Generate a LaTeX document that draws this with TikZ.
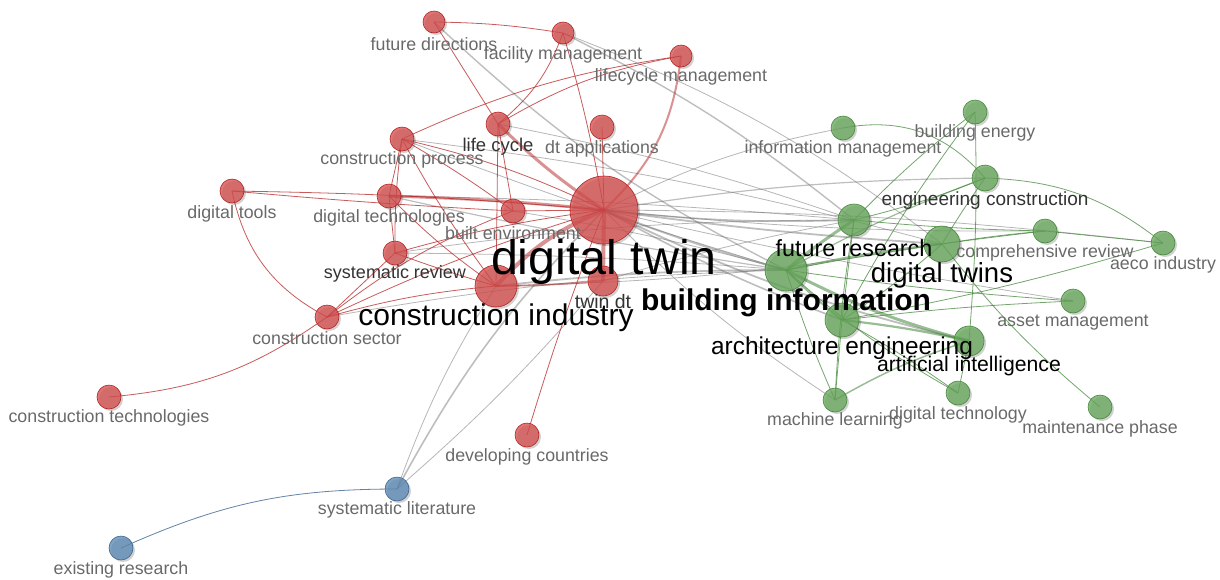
\documentclass[tikz,border=0pt]{standalone}
\usepackage{fontspec}
\setmainfont{Liberation Sans}
\usetikzlibrary{shadows}
\definecolor{redf}{RGB}{214,78,78}
\definecolor{redd}{RGB}{180,36,36}
\definecolor{grnf}{RGB}{104,168,92}
\definecolor{grnd}{RGB}{70,135,60}
\definecolor{bluf}{RGB}{92,138,180}
\definecolor{blud}{RGB}{60,100,145}
\definecolor{edgegray}{RGB}{110,110,110}
\definecolor{labgray}{RGB}{105,105,105}
\tikzset{
  kw/.style={circle, inner sep=0pt, minimum size=#1, line width=0.6pt, fill opacity=0.78,
    drop shadow={shadow xshift=2pt, shadow yshift=-2pt, opacity=0.18, fill=black}},
  rn/.style={kw=#1, fill=redf, draw=redd},
  gn/.style={kw=#1, fill=grnf, draw=grnd},
  bn/.style={kw=#1, fill=bluf, draw=blud},
  lab/.style={inner sep=0pt, text=labgray, font=\fontsize{#1}{#1}\selectfont},
  dlab/.style={inner sep=0pt, text=black!80, font=\fontsize{#1}{#1}\selectfont},
  blab/.style={inner sep=0pt, text=black, font=\fontsize{#1}{#1}\selectfont},
  re/.style={draw=redd, line width=0.8pt, opacity=0.75},
  reT/.style={draw=redd, line width=#1, opacity=0.5},
  ge/.style={draw=edgegray, line width=0.8pt, opacity=0.5},
  geT/.style={draw=edgegray, line width=#1, opacity=0.45},
  ne/.style={draw=grnd, line width=0.8pt, opacity=0.75},
  neT/.style={draw=grnd, line width=#1, opacity=0.55},
  be/.style={draw=blud, line width=0.8pt, opacity=0.8},
}
\begin{document}
\begin{tikzpicture}[x=1pt,y=-1pt]
\useasboundingbox (0,0) rectangle (1220,579);
% ---- coordinates of nodes (centres) ----
\coordinate (fd) at (434,22);
\coordinate (fm) at (563,33);
\coordinate (lm) at (681,56);
\coordinate (lc) at (498,124);
\coordinate (dta) at (602,127);
\coordinate (cp) at (402,139);
\coordinate (dto) at (232,191);
\coordinate (dte) at (389,196);
\coordinate (ben) at (513,211);
\coordinate (dt) at (604,210);
\coordinate (sr) at (395,253);
\coordinate (ci) at (496,286);
\coordinate (tdt) at (603,281);
\coordinate (cs) at (327,317);
\coordinate (ct) at (109,397);
\coordinate (dc) at (527,435);
\coordinate (sl) at (397,489);
\coordinate (er) at (121,548);
\coordinate (im) at (843,128);
\coordinate (bld) at (975,112);
\coordinate (ec) at (985,178);
\coordinate (cr) at (1045,231);
\coordinate (aeco) at (1163,243);
\coordinate (fr) at (854,220);
\coordinate (dts) at (942,244);
\coordinate (bi) at (786,270);
\coordinate (am) at (1073,301);
\coordinate (ae) at (842,320);
\coordinate (ai) at (969,341);
\coordinate (ml) at (835,400);
\coordinate (dtg) at (958,393);
\coordinate (mp) at (1100,407);
% ---- gray (inter-cluster) edges ----
\draw[geT=2pt] (dt) to[bend right=3] (bi);
\draw[geT=1.6pt] (dt) to[bend right=4] (fr);
\draw[geT=1.8pt] (dt) to[bend right=2] (dts);
\draw[geT=1.2pt] (dt) to[bend left=4] (ec);
\draw[geT=1.6pt] (dt) to[bend right=4] (ae);
\draw[geT=1.8pt] (dt) to[bend right=6] (ai);
\draw[ge] (dt) to[bend right=3] (cr);
\draw[ge] (dt) to[bend right=2] (am);
\draw[ge] (dt) to[bend left=8] (im);
\draw[ge] (dt) to[bend right=6] (ml);
\draw[ge] (dt) to[bend left=3] (aeco);
\draw[geT=1.8pt] (ci) to[bend left=3] (bi);
\draw[ge] (ci) to[bend right=4] (dts);
\draw[geT=1.4pt] (fd) to[bend right=8] (bi);
\draw[geT=1.4pt] (fm) to[bend left=6] (fr);
\draw[ge] (fm) to[bend left=8] (dts);
\draw[ge] (lc) to[bend left=4] (fr);
\draw[ge] (cp) to[bend left=4] (dts);
\draw[ge] (cp) to[bend right=2] (bi);
\draw[geT=1.2pt] (dte) to[bend right=2] (bi);
\draw[ge] (dte) to[bend left=2] (fr);
\draw[ge] (sr) to[bend left=2] (bi);
\draw[ge] (sr) to[bend left=4] (fr);
\draw[ge] (cs) to[bend left=4] (bi);
\draw[ge] (ben) to[bend left=3] (bi);
\draw[ge] (tdt) to[bend left=3] (fr);
\draw[geT=1.6pt] (sl) to[bend left=8] (dt);
\draw[ge] (sl) to[bend left=6] (ci);
\draw[ge] (sl) to[bend right=4] (tdt);
% ---- red edges ----
\draw[re] (fd) to[bend left=4] (fm);
\draw[re] (fd) to (lc);
\draw[re] (fm) to[bend left=15] (lc);
\draw[re] (fm) to[bend left=3] (dt);
\draw[re] (lc) to[bend left=10] (lm);
\draw[re] (cp) to[bend left=8] (lm);
\draw[reT=2pt] (lm) to[bend left=20] (dt);
\draw[reT=3pt] (lc) to[bend right=5] (dt);
\draw[re] (lc) to (ben);
\draw[re] (lc) to (ci);
\draw[re] (dta) to (dt);
\draw[re] (cp) to[bend left=6] (dt);
\draw[re] (cp) to (dte);
\draw[re] (cp) to[bend right=4] (sr);
\draw[re] (cp) to[bend right=4] (ci);
\draw[re] (cp) to[bend left=3] (ben);
\draw[re] (dto) to[bend left=2] (dt);
\draw[re] (dto) to[bend right=1] (ben);
\draw[re] (dto) to[bend right=25] (cs);
\draw[reT=3pt] (dte) to[bend left=2] (dt);
\draw[re] (dte) to (sr);
\draw[re] (dte) to[bend right=5] (ci);
\draw[re] (ben) to (dt);
\draw[reT=4pt] (ci) to[bend left=12] (dt);
\draw[reT=4pt] (dt) to (tdt);
\draw[re] (sr) to[bend right=2] (ci);
\draw[re] (sr) to (cs);
\draw[re] (sr) to[bend left=4] (dt);
\draw[re] (cs) to[bend left=5] (ci);
\draw[re] (cs) to[bend left=4] (dt);
\draw[re] (cs) to[bend left=8] (ben);
\draw[re] (cs) to[bend left=15] (ct);
\draw[reT=1.8pt] (ci) to[bend right=2] (tdt);
\draw[re] (dc) to[bend left=2] (dt);
% ---- blue edge ----
\draw[be] (er) to[bend left=12] (sl);
% ---- green edges ----
\draw[neT=3pt] (bi) to[bend left=3] (fr);
\draw[neT=2pt] (bi) to[bend left=3] (dts);
\draw[neT=1.2pt] (bi) to[bend left=4] (ec);
\draw[neT=2pt] (bi) to[bend right=3] (ae);
\draw[neT=3pt] (bi) to[bend right=6] (ai);
\draw[ne] (bi) to[bend right=3] (ml);
\draw[ne] (bi) to[bend right=6] (dtg);
\draw[ne] (bi) to[bend left=2] (cr);
\draw[ne] (bi) to[bend right=2] (am);
\draw[ne] (fr) to[bend right=4] (ec);
\draw[ne] (fr) to[bend right=2] (cr);
\draw[ne] (fr) to[bend left=4] (bld);
\draw[ne] (fr) to (ae);
\draw[ne] (dts) to[bend left=2] (ec);
\draw[ne] (dts) to[bend left=2] (cr);
\draw[ne] (dts) to[bend right=6] (mp);
\draw[ne] (dts) to[bend left=4] (ae);
\draw[ne] (im) to[bend left=30] (ec);
\draw[ne] (ec) to[bend left=18] (aeco);
\draw[ne] (bld) to[bend left=3] (ai);
\draw[ne] (bld) to[bend right=4] (ae);
\draw[ne] (cr) to (aeco);
\draw[ne] (ae) to[bend left=2] (am);
\draw[ne] (ae) to[bend right=3] (aeco);
\draw[neT=2.2pt] (ae) to[bend left=3] (ai);
\draw[ne] (ae) to (ml);
\draw[ne] (ae) to[bend left=3] (dtg);
\draw[neT=1.5pt] (ai) to[bend right=6] (ml);
\draw[ne] (ai) to (dtg);
\draw[ne] (ml) to[bend left=3] (fr);
% ---- keyword circles ----
\node[rn=22pt] (n-fd) at (fd) {};
\node[rn=22pt] (n-fm) at (fm) {};
\node[rn=22pt] (n-lm) at (lm) {};
\node[rn=24pt] (n-lc) at (lc) {};
\node[rn=24pt] (n-dta) at (dta) {};
\node[rn=24pt] (n-cp) at (cp) {};
\node[rn=24pt] (n-dto) at (dto) {};
\node[rn=24pt] (n-dte) at (dte) {};
\node[rn=24pt] (n-ben) at (ben) {};
\node[rn=68pt] (n-dt) at (dt) {};
\node[rn=24pt] (n-sr) at (sr) {};
\node[rn=42pt] (n-ci) at (ci) {};
\node[rn=30pt] (n-tdt) at (tdt) {};
\node[rn=24pt] (n-cs) at (cs) {};
\node[rn=24pt] (n-ct) at (ct) {};
\node[rn=24pt] (n-dc) at (dc) {};
\node[bn=24pt] (n-sl) at (sl) {};
\node[bn=24pt] (n-er) at (er) {};
\node[gn=24pt] (n-im) at (im) {};
\node[gn=24pt] (n-bld) at (bld) {};
\node[gn=26pt] (n-ec) at (ec) {};
\node[gn=24pt] (n-cr) at (cr) {};
\node[gn=24pt] (n-aeco) at (aeco) {};
\node[gn=32pt] (n-fr) at (fr) {};
\node[gn=36pt] (n-dts) at (dts) {};
\node[gn=42pt] (n-bi) at (bi) {};
\node[gn=24pt] (n-am) at (am) {};
\node[gn=34pt] (n-ae) at (ae) {};
\node[gn=30pt] (n-ai) at (ai) {};
\node[gn=24pt] (n-ml) at (ml) {};
\node[gn=24pt] (n-dtg) at (dtg) {};
\node[gn=24pt] (n-mp) at (mp) {};
% ---- labels ----
\node[lab=17.8] (l-fd) at (434,44) {future directions};
\node[lab=17.8] (l-fm) at (563,55) {facility management};
\node[lab=17.8] (l-lm) at (681,77) {lifecycle management};
\node[dlab=18.5] (l-lc) at (498,147) {life cycle};
\node[lab=17.8] (l-dta) at (602,149) {dt applications};
\node[lab=17.8] (l-cp) at (402,160) {construction process};
\node[lab=17.8] (l-dto) at (232,214) {digital tools};
\node[lab=17.8] (l-dte) at (389,218) {digital technologies};
\node[lab=17.8] (l-ben) at (513,233) {built environment};
\node[dlab=18] (l-sr) at (395,274) {systematic review};
\node[lab=17.8] (l-cs) at (327,338) {construction sector};
\node[lab=17.8] (l-ct) at (109,418) {construction technologies};
\node[lab=17.8] (l-dc) at (527,457) {developing countries};
\node[lab=17.8] (l-sl) at (397,510) {systematic literature};
\node[lab=17.8] (l-er) at (121,570) {existing research};
\node[lab=17.8] (l-im) at (843,149) {information management};
\node[lab=17.8] (l-bld) at (975,133) {building energy};
\node[lab=17.8] (l-cr) at (1045,253) {comprehensive review};
\node[lab=17.8] (l-aeco) at (1163,265) {aeco industry};
\node[lab=17.8] (l-am) at (1073,323) {asset management};
\node[lab=17.8] (l-ml) at (835,421) {machine learning};
\node[lab=17.8] (l-dtg) at (958,415) {digital technology};
\node[lab=17.8] (l-mp) at (1100,429) {maintenance phase};
\node[dlab=19] (l-ec) at (985,201) {engineering construction};
\node[dlab=19.5] (l-tdt) at (603,302) {twin dt};
\node[blab=21.2] (l-ai) at (969,366) {artificial intelligence};
\node[blab=23.3] (l-fr) at (854,248) {future research};
\node[blab=24.4] (l-ae) at (842,348) {architecture engineering};
\node[blab=27.5] (l-dts) at (942,275) {digital twins};
\node[blab=30] (l-ci) at (496,318) {construction industry};
\node[blab=30, font=\fontsize{30}{30}\selectfont\bfseries] (l-bi) at (786,303) {building information};
\node[blab=48.4] (l-dt) at (604,262) {digital twin};
\end{tikzpicture}
\end{document}
